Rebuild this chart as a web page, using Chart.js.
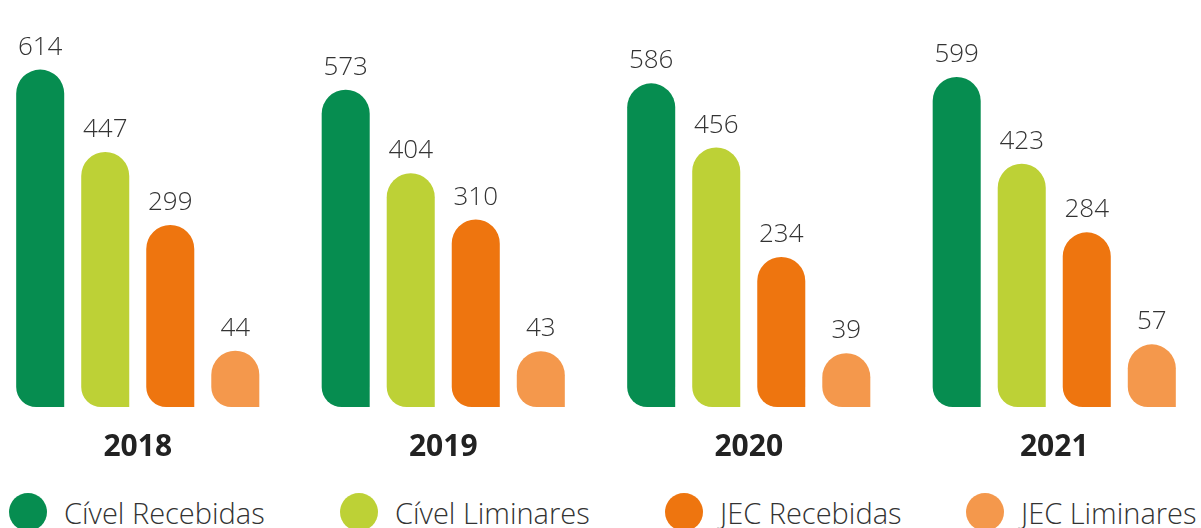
<!DOCTYPE html>
<html>
<head>
<meta charset="utf-8">
<script src="https://cdn.jsdelivr.net/npm/chart.js@4"></script>
<style>
  html, body { margin: 0; padding: 0; background: #fff; }
  body { width: 1201px; height: 528px; position: relative; overflow: hidden; font-family: 'Open Sans', 'Noto Sans', sans-serif; }
  #chartWrap { position: absolute; left: -15px; top: 0; width: 1222px; height: 487px; }
  .legend-item { position: absolute; top: 493px; height: 38px; display: flex; align-items: center; }
  .legend-dot { width: 38px; height: 38px; border-radius: 50%; margin-right: 17px; flex: none; }
  .legend-label { font-size: 29px; font-weight: 300; color: #333; white-space: nowrap; }
</style>
</head>
<body>
<div id="chartWrap"><canvas id="processosChart"></canvas></div>
<div id="legend"></div>
<script>
// --- Data ---
const years = ['2018', '2019', '2020', '2021'];
const seriesNames = ['Cível Recebidas', 'Cível Liminares', 'JEC Recebidas', 'JEC Liminares'];
const civelRecebidas = [614, 573, 586, 599];
const civelLiminares = [447, 404, 456, 423];
const jecRecebidas = [299, 310, 234, 284];
const jecLiminares = [44, 43, 39, 57];

const seriesColors = ['#068d50', '#bdd136', '#ee750f', '#f4984c'];
const legendX = [9, 340, 665, 966]; // left edge of each legend dot

// value labels above bars
const valueLabels = {
    id: 'valueLabels',
    afterDatasetsDraw(chart) {
        const ctx = chart.ctx;
        ctx.save();
        ctx.font = '300 26px "Open Sans", "Noto Sans", sans-serif';
        ctx.fillStyle = '#333';
        ctx.textAlign = 'center';
        ctx.textBaseline = 'alphabetic';
        chart.data.datasets.forEach((ds, i) => {
            chart.getDatasetMeta(i).data.forEach((bar, j) => {
                ctx.fillText(ds.data[j], bar.x, bar.y - 15);
            });
        });
        ctx.restore();
    }
};

const allSeries = [civelRecebidas, civelLiminares, jecRecebidas, jecLiminares];
const datasets = allSeries.map((values, i) => ({
    label: seriesNames[i],
    data: values,
    backgroundColor: seriesColors[i],
    base: -70,
    borderSkipped: false,
    borderRadius: { topLeft: 24, topRight: 24, bottomLeft: 20, bottomRight: 0 },
    categoryPercentage: 0.8515,
    barPercentage: 0.7385
}));

new Chart(document.getElementById('processosChart'), {
    type: 'bar',
    data: { labels: years, datasets: datasets },
    options: {
        responsive: true,
        maintainAspectRatio: false,
        animation: false,
        layout: { padding: 0 },
        plugins: {
            legend: { display: false },
            tooltip: { enabled: false }
        },
        scales: {
            x: {
                grid: { display: false, drawTicks: false },
                border: { display: false },
                ticks: {
                    padding: 22,
                    color: '#222',
                    font: { family: '"Open Sans", "Noto Sans", sans-serif', size: 30, weight: 'bold' }
                }
            },
            y: {
                display: false,
                min: -70,
                max: 755
            }
        }
    },
    plugins: [valueLabels]
});

// HTML legend
const legend = document.getElementById('legend');
seriesNames.forEach((name, i) => {
    const item = document.createElement('div');
    item.className = 'legend-item';
    item.style.left = legendX[i] + 'px';
    item.innerHTML = '<span class="legend-dot" style="background:' + seriesColors[i] + '"></span>' +
        '<span class="legend-label">' + name + '</span>';
    legend.appendChild(item);
});
</script>
</body>
</html>
